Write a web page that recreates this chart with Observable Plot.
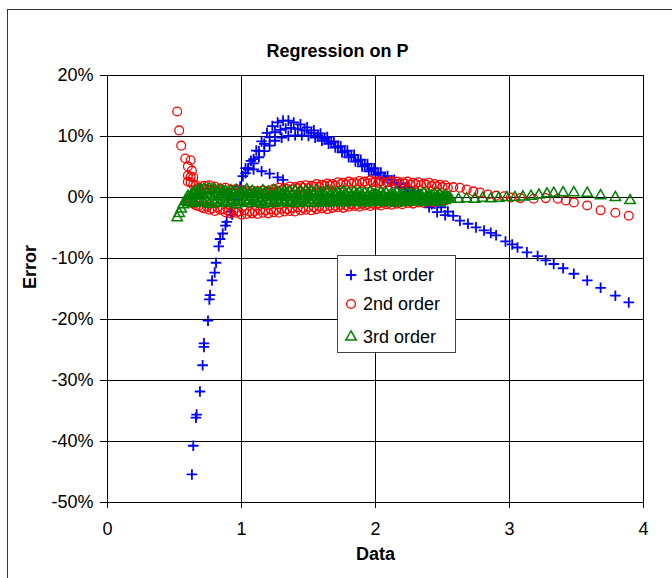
<!DOCTYPE html>
<html>
<head>
<meta charset="utf-8">
<script src="https://cdn.jsdelivr.net/npm/d3@7"></script>
<script src="https://cdn.jsdelivr.net/npm/@observablehq/plot@0.6"></script>
<style>
  html, body { margin: 0; padding: 0; background: #fff; }
  #wrap { position: relative; width: 672px; height: 578px; overflow: hidden; font-family: "Liberation Sans", Arial, sans-serif; }
  #border { position: absolute; left: 7px; top: 9px; width: 720px; height: 720px; border-left: 1.5px solid #333; border-top: 1.5px solid #333; }
  #chart { position: absolute; left: 0; top: 0; }
  #legend { position: absolute; left: 337px; top: 255px; width: 117px; height: 96px; background: #fff; border: 1px solid #444; }
</style>
</head>
<body>
<div id="wrap">
  <div id="border"></div>
  <div id="chart"></div>
  <div id="legend"></div>
</div>
<script>
// Axis ticks
const xTicks = [0, 1, 2, 3, 4];
const yTicks = [20, 10, 0, -10, -20, -30, -40, -50];

// Shared "Data" positions for the dense part of the error bands
const dataGridA = [0.60,0.64,0.68,0.72,0.76,0.80,0.84,0.88,0.92,0.96,1.00,1.04,1.08,1.12,1.16,1.20,1.24,1.28,1.32,1.36,1.40,1.44,1.48,1.52,1.56,1.60,1.64,1.68,1.72,1.76,1.80,1.84,1.88,1.92,1.96,2.00,2.04,2.08,2.12,2.16,2.20,2.24,2.28,2.32,2.36,2.40,2.44,2.48,2.52];
const dataGridB = [0.62,0.66,0.70,0.74,0.78,0.82,0.86,0.90,0.94,0.98,1.02,1.06,1.10,1.14,1.18,1.22,1.26,1.30,1.34,1.38,1.42,1.46,1.50,1.54,1.58,1.62,1.66,1.70,1.74,1.78,1.82,1.86,1.90,1.94,1.98,2.02,2.06,2.10,2.14,2.18,2.22,2.26,2.30,2.34,2.38,2.42,2.46,2.50,2.54];

// 1st order error (%)
const first_steepX = [0.63,0.64,0.66,0.69,0.71,0.72,0.75,0.76,0.78,0.81,0.83,0.86];
const first_steepY = [-45.4,-40.7,-36.1,-31.8,-27.5,-23.9,-20.2,-16.7,-13.6,-10.7,-8.0,-5.9];
const first_steep2X = [0.665,0.72,0.765,0.80,0.84,0.88,0.93,0.97];
const first_steep2Y = [-35.6,-24.5,-16.0,-12.3,-6.8,-4.6,-2.8,-0.2];
const first_upperX = [0.89,0.92,0.95,0.99,1.03,1.07,1.11,1.15,1.19,1.23,1.27,1.31,1.35,1.39,1.44,1.49,1.54,1.59,1.64,1.69,1.74,1.79,1.84,1.89,1.94,1.99,2.04,2.09,2.14,2.19,2.24,2.29,2.34,2.39,2.44,2.49,2.54];
const first_upperY = [-4.0,-2.3,-0.4,1.8,4.0,6.0,7.7,9.2,10.6,11.7,12.3,12.6,12.6,12.3,12.0,11.5,11.0,10.5,9.9,9.2,8.4,7.7,7.0,6.2,5.5,4.8,4.1,3.5,2.9,2.3,1.7,1.1,0.4,-0.3,-1.0,-1.6,-2.3];
const first_midX = [1.05,1.09,1.13,1.17,1.21,1.25,1.29,1.33,1.37,1.42,1.47,1.52,1.57,1.62,1.67,1.72,1.77,1.82,1.87,1.92,1.97,2.02,2.07,2.12,2.17,2.22,2.27,2.32,2.37];
const first_midY = [4.8,6.3,7.6,8.8,9.9,10.7,11.1,11.3,11.4,11.2,11.0,10.6,10.2,9.6,9.0,8.3,7.6,6.9,6.1,5.3,4.6,4.0,3.3,2.8,2.2,1.6,1.0,0.4,-0.3];
const first_lowerX = [1.01,1.05,1.09,1.13,1.17,1.21,1.25,1.30,1.35,1.40,1.45,1.50,1.55,1.60,1.65,1.70,1.75,1.80,1.85,1.90,1.95,2.00,2.06,2.12,2.18,2.24,2.30,2.36,2.42];
const first_lowerY = [3.5,4.6,5.6,6.6,7.6,8.5,9.3,9.8,10.1,10.2,10.2,10.1,9.8,9.3,8.8,8.2,7.4,6.6,5.9,5.1,4.3,3.7,3.0,2.4,1.7,1.0,0.3,-0.4,-1.1];
const first_branchX = [1.03,1.09,1.15,1.21,1.27,1.31];
const first_branchY = [4.8,4.6,4.3,3.9,3.3,2.9];
const first_tailX = [2.40,2.46,2.52,2.58,2.63,2.69,2.75,2.81,2.86,2.90,2.97,3.02,3.06,3.13,3.21,3.27,3.33,3.40,3.48,3.58,3.68,3.79,3.89];
const first_tailY = [-1.6,-2.4,-2.9,-3.0,-3.8,-4.3,-4.9,-5.4,-5.8,-6.2,-7.2,-7.7,-8.2,-9.0,-9.6,-10.3,-10.9,-11.6,-12.5,-13.6,-14.8,-16.1,-17.2];

// 2nd order error (%)
const second_spikeX = [0.52,0.535,0.55,0.58,0.62,0.60,0.63,0.60,0.64,0.62,0.66];
const second_spikeY = [14.1,11.0,8.5,6.4,6.1,5.1,4.4,3.6,3.3,2.5,2.0];
const second_up1Y = [2.6,2.1,1.6,1.9,2.0,1.8,1.5,1.6,1.3,1.4,1.2,1.0,1.1,1.0,1.2,1.1,1.4,1.6,1.5,1.8,1.7,1.9,2.0,1.9,2.2,2.1,2.3,2.2,2.5,2.4,2.6,2.5,2.7,2.6,2.8,2.6,2.7,2.5,2.7,2.6,2.5,2.6,2.4,2.5,2.3,2.4,2.2,2.1,2.0];
const second_up2Y = [3.4,1.2,1.0,1.4,1.2,1.0,0.9,0.8,0.9,0.7,0.8,0.7,0.8,0.6,0.8,0.9,1.0,1.2,1.4,1.3,1.5,1.6,1.5,1.8,1.7,1.9,2.0,1.9,2.2,2.1,2.3,2.2,2.4,2.3,2.5,2.4,2.3,2.5,2.3,2.2,2.3,2.1,2.2,2.0,2.1,1.9,1.8,1.7,1.6];
const second_low1Y = [-0.4,-1.0,-1.4,-1.8,-2.0,-2.2,-2.0,-2.4,-2.6,-2.5,-2.8,-2.7,-2.6,-2.7,-2.5,-2.6,-2.4,-2.5,-2.3,-2.2,-2.3,-2.1,-2.0,-2.1,-1.9,-1.8,-1.9,-1.7,-1.6,-1.7,-1.5,-1.4,-1.5,-1.3,-1.4,-1.2,-1.3,-1.1,-1.2,-1.0,-1.1,-0.9,-1.0,-0.8,-0.9,-0.7,-0.8,-0.6,-0.5];
const second_low2Y = [-0.6,-1.3,-1.6,-1.4,-1.8,-1.6,-1.9,-2.2,-2.0,-2.3,-2.1,-2.3,-2.2,-2.0,-2.1,-1.9,-2.0,-1.8,-1.9,-1.7,-1.6,-1.7,-1.5,-1.6,-1.4,-1.5,-1.3,-1.4,-1.2,-1.3,-1.1,-1.2,-1.0,-1.1,-0.9,-1.0,-0.8,-0.9,-0.7,-0.8,-0.6,-0.7,-0.5,-0.6,-0.4,-0.5,-0.3,-0.4,-0.2];
const second_tailX = [2.58,2.63,2.68,2.73,2.78,2.84,2.90,2.96,3.01,3.08,3.18,3.27,3.36,3.42,3.48,3.58,3.68,3.79,3.89];
const second_tailY = [1.7,1.6,1.3,1.0,0.8,0.5,0.3,0.2,0.0,-0.1,-0.2,-0.1,-0.2,-0.5,-0.8,-1.3,-2.1,-2.5,-3.0];

// 3rd order error (%)
const third_startX = [0.52,0.535,0.55,0.565,0.58];
const third_startY = [-3.3,-2.6,-1.9,-1.2,-0.6];
const third_topY = [0.2,0.8,1.2,1.4,1.5,1.3,1.2,1.0,1.1,1.2,0.9,1.3,1.0,0.8,1.1,0.9,1.2,0.8,1.0,0.9,1.1,0.8,1.0,0.9,1.1,0.8,1.0,0.9,0.8,1.0,0.7,0.9,0.8,0.7,0.9,0.6,0.8,0.7,0.6,0.8,0.5,0.7,0.6,0.5,0.7,0.4,0.6,0.5,0.3];
const third_upMidY = [0.2,1.0,1.2,0.9,1.1,0.8,0.9,0.6,0.8,0.5,0.8,0.6,0.7,0.5,0.7,0.4,0.6,0.5,0.7,0.4,0.6,0.5,0.6,0.4,0.6,0.5,0.4,0.6,0.4,0.5,0.3,0.5,0.4,0.3,0.5,0.3,0.4,0.2,0.4,0.3,0.2,0.3,0.2,0.3,0.1,0.2,0.1,0.0,0.1];
const third_midY = [-0.3,0.4,0.6,0.3,0.5,0.2,0.4,0.1,0.3,0.0,0.4,0.1,0.2,-0.1,0.3,0.0,0.2,0.1,0.3,0.0,0.2,-0.1,0.2,0.1,0.0,0.2,-0.1,0.1,0.0,0.2,-0.1,0.1,0.0,-0.2,0.1,-0.1,0.0,-0.2,0.1,-0.1,0.0,-0.2,0.0,-0.1,-0.2,0.0,-0.1,-0.2,0.0];
const third_lowMidY = [-0.8,-0.4,-0.3,-0.6,-0.4,-0.5,-0.3,-0.6,-0.4,-0.7,-0.4,-0.5,-0.3,-0.6,-0.4,-0.5,-0.3,-0.5,-0.4,-0.6,-0.3,-0.5,-0.4,-0.5,-0.3,-0.5,-0.4,-0.5,-0.3,-0.4,-0.5,-0.3,-0.4,-0.5,-0.3,-0.4,-0.5,-0.3,-0.4,-0.5,-0.3,-0.4,-0.5,-0.3,-0.4,-0.5,-0.3,-0.4,-0.3];
const third_lowY = [-0.8,-1.0,-0.7,-0.9,-1.1,-0.8,-1.0,-0.7,-0.9,-1.2,-0.8,-1.0,-0.7,-0.9,-1.1,-0.8,-1.0,-0.7,-0.9,-0.8,-1.0,-0.7,-0.9,-0.8,-1.0,-0.7,-0.9,-0.8,-0.6,-0.9,-0.7,-0.8,-0.6,-0.9,-0.7,-0.8,-0.6,-0.8,-0.7,-0.9,-0.6,-0.8,-0.7,-0.6,-0.8,-0.7,-0.6,-0.8,-0.5];
const third_tailX = [2.50,2.56,2.62,2.68,2.74,2.80,2.86,2.92,2.98,3.04,3.10,3.16,3.22,3.28,3.33,3.40,3.48,3.58,3.68,3.79,3.90];
const third_tailY = [-0.3,-0.2,-0.3,-0.2,-0.3,-0.1,-0.2,-0.1,0.0,0.0,0.1,0.2,0.4,0.6,0.7,0.8,0.8,0.7,0.3,0.0,-0.5];

const BLUE = "#0000ff", RED = "#ff0000", GREEN = "#008000";

const pts = (xs, ys) => xs.map((x, i) => ({x, y: ys[i]}));

const firstOrder = [
  pts(first_steepX, first_steepY), pts(first_steep2X, first_steep2Y),
  pts(first_upperX, first_upperY), pts(first_midX, first_midY),
  pts(first_lowerX, first_lowerY), pts(first_branchX, first_branchY),
  pts(first_tailX, first_tailY)
].flat();
const secondOrder = [
  pts(second_spikeX, second_spikeY),
  pts(dataGridA, second_up1Y), pts(dataGridB, second_up2Y),
  pts(dataGridA, second_low1Y), pts(dataGridB, second_low2Y),
  pts(second_tailX, second_tailY)
].flat();
const thirdOrder = [
  pts(third_startX, third_startY),
  pts(dataGridA, third_topY), pts(dataGridB, third_upMidY), pts(dataGridA, third_midY),
  pts(dataGridB, third_lowMidY), pts(dataGridA, third_lowY),
  pts(third_tailX, third_tailY)
].flat();

// marker radii, chosen so the d3 symbol sizes give ~9-10px glyphs
const R_PLUS = 3.5, R_CIRCLE = 4.4, R_TRI = 5.0;

const font = '"Liberation Sans", Arial, sans-serif';

const chart = Plot.plot({
  width: 672,
  height: 578,
  marginLeft: 107,
  marginRight: 29,
  marginTop: 75,
  marginBottom: 76,
  style: {fontFamily: font, fontSize: "18px", color: "#000", background: "transparent", overflow: "visible"},
  x: {domain: [0, 4], ticks: xTicks, tickFormat: d => `${d}`, tickSize: 6, tickPadding: 14, label: null},
  y: {domain: [-50, 20], ticks: yTicks, tickFormat: d => `${d}%`, tickSize: 7, tickPadding: 7, label: null},
  marks: [
    Plot.gridX(xTicks, {stroke: "#000", strokeOpacity: 1, strokeWidth: 1}),
    Plot.gridY(yTicks, {stroke: "#000", strokeOpacity: 1, strokeWidth: 1}),
    Plot.frame({stroke: "#000"}),
    Plot.dot(firstOrder, {x: "x", y: "y", symbol: "plus", r: R_PLUS, stroke: BLUE, strokeWidth: 1.8}),
    Plot.dot(secondOrder, {x: "x", y: "y", symbol: "circle", r: R_CIRCLE, stroke: RED, strokeWidth: 1.3, fill: "none"}),
    Plot.dot(thirdOrder, {x: "x", y: "y", symbol: "triangle2", r: R_TRI, stroke: GREEN, strokeWidth: 1.5, fill: "none"}),
    Plot.text(["Regression on P"], {frameAnchor: "top", dx: -38, dy: -31, fontWeight: "bold", fontSize: 18}),
    Plot.text(["Data"], {frameAnchor: "bottom", dy: 57, fontWeight: "bold", fontSize: 18}),
    Plot.text(["Error"], {frameAnchor: "left", dx: -77, rotate: -90, fontWeight: "bold", fontSize: 18})
  ]
});
document.getElementById("chart").appendChild(chart);

// Legend box
const legendItems = [
  {label: "1st order", type: d3.symbolPlus, r: R_PLUS, color: BLUE, width: 1.8},
  {label: "2nd order", type: d3.symbolCircle, r: R_CIRCLE, color: RED, width: 1.3},
  {label: "3rd order", type: d3.symbolTriangle2, r: R_TRI, color: GREEN, width: 1.5}
];
const rowY = [19, 48, 81];
const lg = d3.select("#legend").append("svg")
  .attr("width", 117).attr("height", 96)
  .style("position", "absolute").style("left", 0).style("top", 0)
  .style("font-family", font).style("font-size", "18px");
legendItems.forEach((d, i) => {
  lg.append("path")
    .attr("transform", `translate(13,${rowY[i]})`)
    .attr("d", d3.symbol(d.type, d.r * d.r * Math.PI)())
    .attr("fill", "none").attr("stroke", d.color).attr("stroke-width", d.width);
  lg.append("text")
    .attr("x", 25).attr("y", rowY[i]).attr("dy", "0.35em")
    .attr("fill", "#000").text(d.label);
});
</script>
</body>
</html>
